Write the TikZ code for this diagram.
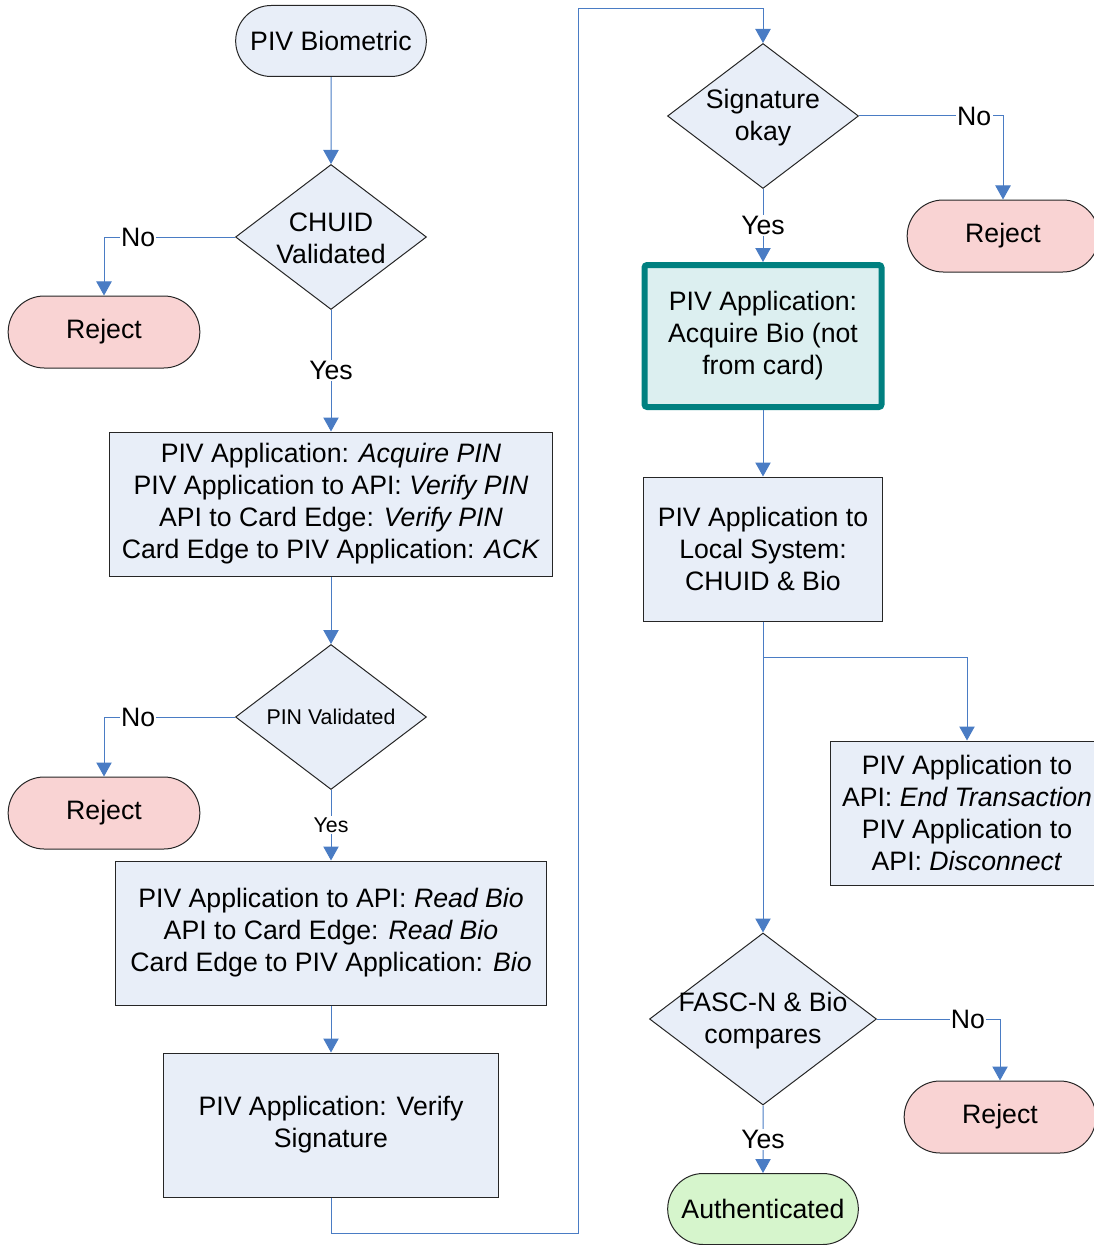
\documentclass[tikz,border=0pt]{standalone}
\usepackage{fontspec}
\setmainfont{Liberation Sans}
\usetikzlibrary{arrows.meta, positioning, shapes.geometric, shapes.misc}
\definecolor{boxfill}{HTML}{E8EEF8}
\definecolor{rejfill}{HTML}{F9D3D3}
\definecolor{okfill}{HTML}{D6F5CC}
\definecolor{tealfill}{HTML}{DCEFF0}
\definecolor{tealline}{HTML}{008080}
\definecolor{connblue}{HTML}{4A7CC4}
\tikzset{
    base/.style={
        draw=black!85, line width=0.75pt,
        inner sep=2pt, align=center,
        font=\fontsize{20}{24}\selectfont
    },
    term/.style={
        base, rounded rectangle, fill=boxfill,
        minimum width=147pt, minimum height=53.25pt
    },
    reject/.style={term, fill=rejfill, minimum width=147.75pt, minimum height=54pt},
    accept/.style={term, fill=okfill},
    decision/.style={
        base, diamond, fill=boxfill, inner sep=0pt,
        minimum width=143.25pt, minimum height=108.75pt
    },
    dtext/.style={align=center, font=\fontsize{20}{24}\selectfont},
    proc/.style={base, rectangle, fill=boxfill, minimum height=108pt},
    key/.style={proc, draw=tealline, line width=4.5pt, fill=tealfill,
        rounded corners=2pt},
    conn/.style={
        draw=connblue, line width=0.75pt,
        -{Triangle[width=11.5pt, length=10.5pt]},
    },
    lbl/.style={fill=white, inner sep=1pt, font=\fontsize{20}{24}\selectfont},
    small/.style={font=\fontsize{16}{19}\selectfont},
}
\begin{document}
\begin{tikzpicture}[x=0.75pt, y=-0.75pt]
    \useasboundingbox (0,0) rectangle (1094,1245);

    % left column
    \node[term] (start) at (331,41) {PIV Biometric};
    \node[decision] (chuid) at (331,237) {};
    \node[dtext] at ([yshift=-1pt]chuid) {CHUID\\Validated};
    \node[reject] (rej1) at (104,332) {Reject};
    \node[proc, minimum width=332.25pt] (pinbox) at (331,504)
        {PIV Application: \textit{Acquire PIN}\\
         PIV Application to API: \textit{Verify PIN}\\
         API to Card Edge: \textit{Verify PIN}\\
         Card Edge to PIV Application: \textit{ACK}};
    \node[decision] (pin) at (331,717) {};
    \node[dtext, small] at (pin) {PIN Validated};
    \node[reject] (rej2) at (104,813) {Reject};
    \node[proc, minimum width=323.25pt] (readbio) at (331,933)
        {PIV Application to API: \textit{Read Bio}\\
         API to Card Edge: \textit{Read Bio}\\
         Card Edge to PIV Application: \textit{Bio}};
    \node[proc, minimum width=251.25pt] (verify) at (331,1125)
        {PIV Application: Verify\\Signature};

    % right column
    \node[decision] (sig) at (763,116) {};
    \node[dtext] at ([yshift=-1pt]sig) {Signature\\okay};
    \node[reject] (rej3) at (1003,236) {Reject};
    \node[key, minimum width=177.75pt, minimum height=106.5pt] (acq) at (763,336)
        {PIV Application:\\Acquire Bio (not\\from card)};
    \node[proc, minimum width=179.25pt] (locsys) at (763,549)
        {PIV Application to\\Local System:\\CHUID \& Bio};
    \node[proc, minimum width=205.5pt] (endtx) at (967,813)
        {PIV Application to\\API: \textit{End Transaction}\\
         PIV Application to\\API: \textit{Disconnect}};
    \node[decision, minimum width=170.25pt, minimum height=129pt] (fasc) at (763,1019) {};
    \node[dtext] at ([yshift=-1pt]fasc) {FASC-N \& Bio\\compares};
    \node[reject] (rej4) at (1000,1117) {Reject};
    \node[accept] (auth) at (763,1209) {Authenticated};

    \coordinate (down) at (578,1233);
    \coordinate (up) at (578,9);
    \coordinate (split) at (763,657);

    % connectors
    \foreach \i/\j in {start/chuid, pinbox/pin, readbio/verify, acq/locsys, locsys/fasc}
        \draw[conn] (\i) -- (\j);

    \foreach \i/\j in {chuid/pinbox, sig/acq, fasc/auth}
        \draw[conn] (\i) -- node[lbl] {Yes} (\j);
    \draw[conn] (pin) -- node[lbl, small] {Yes} (readbio);

    \foreach \i/\j/\p in {chuid/rej1/0.37, pin/rej2/0.37, sig/rej3/0.4, fasc/rej4/0.37}
        \draw[conn] (\i) -| node[lbl, pos=\p] {No} (\j);

    \draw[conn] (verify) |- (down) -- (up) -| (sig);
    \draw[conn] (split) -| (endtx);
\end{tikzpicture}
\end{document}
